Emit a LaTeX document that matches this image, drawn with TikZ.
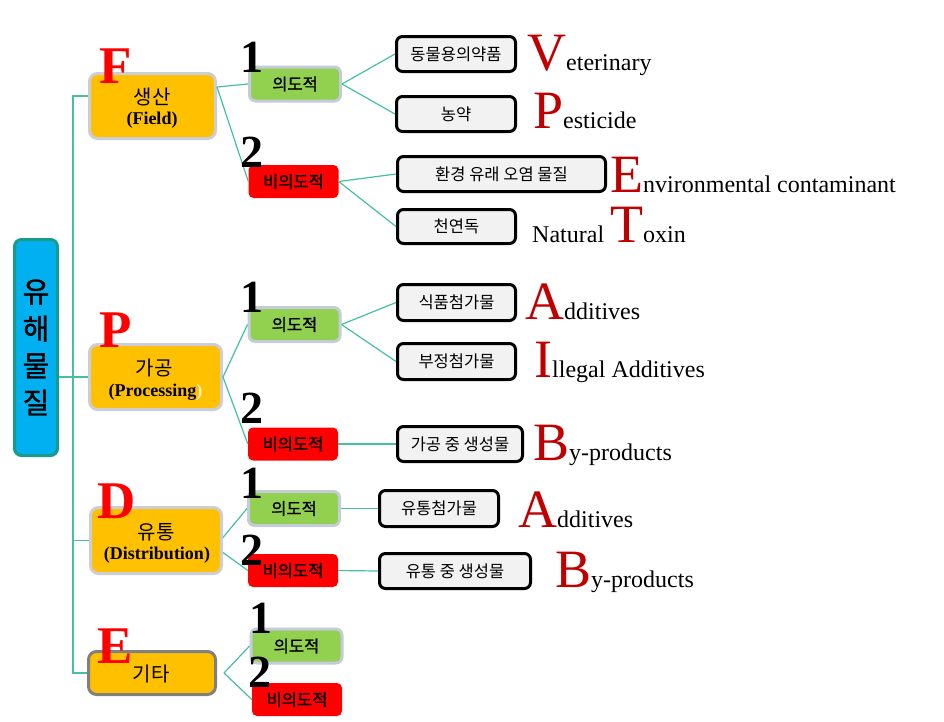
\documentclass[tikz,border=0pt]{standalone}
\usepackage{fontspec}
\setmainfont{Liberation Serif}
\newfontfamily\kr{Noto Sans CJK KR}
\newfontfamily\krb[FakeBold=1.2]{Noto Sans CJK KR}
\definecolor{catfill}{HTML}{FFC000}
\definecolor{catborder}{HTML}{CDCDD5}
\definecolor{eborder}{HTML}{808080}
\definecolor{greenfill}{HTML}{92D050}
\definecolor{greenborder}{HTML}{C3CCD8}
\definecolor{redfill}{HTML}{FF0000}
\definecolor{leaffill}{HTML}{F2F2F2}
\definecolor{rootfill}{HTML}{00B0F0}
\definecolor{rootborder}{HTML}{1A9A8A}
\definecolor{conncol}{HTML}{45C0A5}
\definecolor{letred}{HTML}{C00000}
\definecolor{parencol}{HTML}{FFF0C0}
\newcommand\BigL[1]{{\color{letred}\fontsize{54}{54}\selectfont #1}}
\begin{document}
\begin{tikzpicture}[x=1pt,y=-1pt,
  conn/.style={draw=conncol, line width=1.2pt},
  rootbox/.style={draw=rootborder, line width=3pt, fill=rootfill, rounded corners=7pt, inner sep=0pt, align=center, font=\krb\fontsize{29}{37}\selectfont},
  catbox/.style={draw=catborder, line width=3pt, fill=catfill, rounded corners=8pt, inner sep=0pt},
  cattxt/.style={inner sep=0pt, font=\kr\fontsize{20}{20}\selectfont},
  catsub/.style={inner sep=0pt, font=\bfseries\fontsize{18}{18}\selectfont},
  catlet/.style={inner sep=0pt, anchor=base west, text=red, font=\bfseries\fontsize{53}{53}\selectfont},
  numlbl/.style={inner sep=0pt, anchor=base west, font=\bfseries\fontsize{46}{46}\selectfont},
  intbox/.style={draw=greenborder, line width=3pt, fill=greenfill, rounded corners=6pt, minimum width=91pt, minimum height=34pt, inner sep=0pt, font=\krb\fontsize{16.5}{16.5}\selectfont},
  unbox/.style={fill=redfill, rounded corners=5pt, minimum width=90pt, minimum height=33pt, inner sep=0pt, font=\krb\fontsize{16.5}{16.5}\selectfont},
  leafbox/.style={draw=black, line width=3pt, fill=leaffill, rounded corners=6pt, inner sep=0pt, font=\kr\fontsize{16.5}{16.5}\selectfont},
  eng/.style={inner sep=0pt, anchor=base west, font=\fontsize{24}{24}\selectfont}
]
\useasboundingbox (0,0) rectangle (944,721);
\fill[white] (0,0) rectangle (944,721);

% root
\node[rootbox, minimum width=43pt, minimum height=216pt] (root) at (36,347.5) {유\\해\\물\\질};

% categories
\node[catbox, minimum width=126pt, minimum height=65pt] (F) at (152.5,106) {};
\node[catbox, minimum width=132pt, minimum height=65pt] (P) at (155.5,377) {};
\node[catbox, minimum width=131pt, minimum height=66pt] (D) at (156,540.5) {};
\node[catbox, draw=eborder, minimum width=127pt, minimum height=43pt] (E) at (152,673) {};

\node[cattxt] (Ft1) at (152,97) {생산};
\node[catsub] (Ft2) at (152,120) {(Field)};
\node[cattxt] (Pt1) at (154,368) {가공};
\node[catsub] (Pt2) at (155.5,392) {(Processing\textcolor{parencol}{)}};
\node[cattxt] (Dt1) at (156,532) {유통};
\node[catsub] (Dt2) at (157,555) {(Distribution)};
\node[cattxt] (Et1) at (151,674) {기타};

% trunk
\coordinate (trunk) at (73,0);
\coordinate (fb) at ([yshift=10pt]F.west);
\draw[conn] (fb) -- (fb -| trunk) |- (E.west);
\draw[conn] (root.east |- P.west) -- (P.west);
\draw[conn] (D.west) -- (D.west -| trunk);

% sub boxes
\node[intbox] (F1) at (295,84) {의도적};
\node[unbox] (F2) at (293.5,181.5) {비의도적};
\node[intbox] (P1) at (294.5,324.5) {의도적};
\node[unbox] (P2) at (293,444) {비의도적};
\node[intbox] (D1) at (294,508.5) {의도적};
\node[unbox] (D2) at (293,570.5) {비의도적};
\node[intbox] (E1) at (296.5,646) {의도적};
\node[unbox] (E2) at (297,699.5) {비의도적};

% leaf boxes
\node[leafbox, minimum width=119pt, minimum height=35pt] (L1) at (456,54) {동물용의약품};
\node[leafbox, minimum width=119pt, minimum height=35pt] (L2) at (456,114) {농약};
\node[leafbox, minimum width=208pt, minimum height=35pt] (L3) at (501.5,174) {환경 유래 오염 물질};
\node[leafbox, minimum width=118pt, minimum height=34pt] (L4) at (456.5,226.5) {천연독};
\node[leafbox, minimum width=118pt, minimum height=36pt] (L5) at (456.5,302.5) {식품첨가물};
\node[leafbox, minimum width=118pt, minimum height=36pt] (L6) at (456.5,361.5) {부정첨가물};
\node[leafbox, minimum width=125pt, minimum height=35pt] (L7) at (460,444) {가공 중 생성물};
\node[leafbox, minimum width=119pt, minimum height=36pt] (L8) at (439,508.5) {유통첨가물};
\node[leafbox, minimum width=151pt, minimum height=35pt] (L9) at (455,571) {유통 중 생성물};

% connectors category -> sub
\draw[conn] ([yshift=19pt]F.east) -- (F1.west);
\draw[conn] ([yshift=19pt]F.east) -- (F2.west);
\draw[conn] (P.east) -- (P1.west);
\draw[conn] (P.east) -- (P2.west);
\draw[conn] ([yshift=3pt]D.east) -- (D1.west);
\draw[conn] ([yshift=-12pt]D.east) -- (D2.west);
\draw[conn] ([xshift=7pt]E.east) -- (E1.west);
\draw[conn] ([xshift=7pt]E.east) -- (E2.west);

% connectors sub -> leaf
\draw[conn] (F1.east) -- (L1.west);
\draw[conn] (F1.east) -- (L2.west);
\draw[conn] (F2.east) -- (L3.west);
\draw[conn] (F2.east) -- (L4.west);
\draw[conn] (P1.east) -- (L5.west);
\draw[conn] (P1.east) -- (L6.west);
\draw[conn] (P2.east) -- (L7.west);
\draw[conn] (D1.east) -- (L8.west);
\draw[conn] (D2.east) -- (L9.west);

% category letters
\node[catlet] (FL) at (99,83) {F};
\node[catlet] (PL) at (99,347) {P};
\node[catlet] (DL) at (97,518) {D};
\node[catlet] (EL) at (97,663) {E};

% numbers
\node[numlbl] (F1n) at (240,72) {1};
\node[numlbl] (F2n) at (240,167) {2};
\node[numlbl] (P1n) at (240,312) {1};
\node[numlbl] (P2n) at (240,423) {2};
\node[numlbl] (D1n) at (240,498) {1};
\node[numlbl] (D2n) at (240,565) {2};
\node[numlbl] (E1n) at (249,633) {1};
\node[numlbl] (E2n) at (248,687) {2};

% english labels
\node[eng] (Ve) at (527,70) {\BigL{V}eterinary};
\node[eng] (Pe) at (533,128) {\BigL{P}esticide};
\node[eng] (En) at (610,192) {\BigL{E}nvironmental contaminant};
\node[eng] (To) at (532,242) {Natural \BigL{T}oxin};
\node[eng] (Ad1) at (525,319) {\BigL{A}dditives};
\node[eng] (Il) at (534,377) {\BigL{I}llegal Additives};
\node[eng] (By1) at (533,460) {\BigL{B}y-products};
\node[eng] (Ad2) at (518,527) {\BigL{A}dditives};
\node[eng] (By2) at (555,587) {\BigL{B}y-products};
\end{tikzpicture}
\end{document}
